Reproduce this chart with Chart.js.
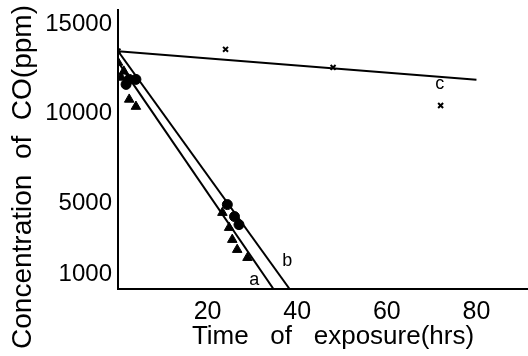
<!DOCTYPE html>
<html>
<head>
<meta charset="utf-8">
<script src="https://cdn.jsdelivr.net/npm/chart.js@4"></script>
<style>
  html, body { margin: 0; padding: 0; background: #fff; }
  canvas { display: block; }
</style>
</head>
<body>
<canvas id="myChart" width="528" height="356"></canvas>
<script>
// values
var triHours = [0, 1.3, 0.7, 2.5, 4, 23.3, 24.8, 25.5, 26.6, 28.9];
var triConc  = [12870, 12370, 12030, 10800, 10400, 4470, 3630, 2960, 2400, 1950];

var dotHours = [1.8, 2.5, 4, 24.4, 26, 27];
var dotConc  = [11640, 11920, 11920, 4920, 4250, 3800];

var crossHours = [0, 24, 48, 72];
var crossConc  = [13500, 13600, 12590, 10460];

var lineAHours = [0, 34.7];
var lineAConc  = [12900, 200];
var lineBHours = [0, 38.3];
var lineBConc  = [13500, 200];
var lineCHours = [0, 80];
var lineCConc  = [13500, 11900];

var yTicks = [1000, 5000, 10000, 15000];
var xTicks = [20, 40, 60, 80];

var lineNames = [
    { text: 'a', x: 30.4, y: 700 },
    { text: 'b', x: 37.8, y: 1750 },
    { text: 'c', x: 71.8, y: 11650 }
];

function pts(xs, ys) {
    return xs.map(function(x, i) { return { x: x, y: ys[i] }; });
}

var FONT = '"Liberation Sans", Arial, sans-serif';

// axis titles and the a / b / c labels
var textPlugin = {
    id: 'textPlugin',
    afterDraw: function(chart) {
        var ctx = chart.ctx;
        var xs = chart.scales.x, ys = chart.scales.y;
        ctx.save();
        ctx.fillStyle = '#000';
        ctx.textAlign = 'center';
        ctx.textBaseline = 'middle';

        ctx.font = '18px ' + FONT;
        lineNames.forEach(function(l) {
            ctx.fillText(l.text, xs.getPixelForValue(l.x), ys.getPixelForValue(l.y));
        });

        ctx.font = '26px ' + FONT;
        ctx.fillText('Time   of   exposure(hrs)', 333, 337);

        ctx.translate(23, 177);
        ctx.rotate(-Math.PI / 2);
        ctx.font = '28px ' + FONT;
        ctx.fillText('Concentration  of  CO(ppm)', 0, 0);
        ctx.restore();
    }
};

function noEdgePadding(scale) {
    scale.paddingTop = 0;
    scale.paddingBottom = 0;
    scale.paddingLeft = 0;
    scale.paddingRight = 0;
}

var ctx = document.getElementById('myChart').getContext('2d');
var myChart = new Chart(ctx, {
    type: 'scatter',
    data: {
        datasets: [
            { type: 'line', data: pts(lineAHours, lineAConc), borderColor: '#000', borderWidth: 2, pointRadius: 0, fill: false },
            { type: 'line', data: pts(lineBHours, lineBConc), borderColor: '#000', borderWidth: 2, pointRadius: 0, fill: false },
            { type: 'line', data: pts(lineCHours, lineCConc), borderColor: '#000', borderWidth: 2, pointRadius: 0, fill: false },
            { data: pts(triHours, triConc), pointStyle: 'triangle', pointRadius: 5.5, backgroundColor: '#000', borderColor: '#000', borderWidth: 1 },
            { data: pts(dotHours, dotConc), pointStyle: 'circle', pointRadius: 5, backgroundColor: '#000', borderColor: '#000', borderWidth: 1 },
            { data: pts(crossHours, crossConc), pointStyle: 'crossRot', pointRadius: 3.5, borderColor: '#000', borderWidth: 2 }
        ]
    },
    options: {
        responsive: false,
        animation: false,
        devicePixelRatio: 1,
        layout: { autoPadding: false, padding: { top: 10, right: 0, left: 0, bottom: 0 } },
        plugins: {
            legend: { display: false },
            tooltip: { enabled: false }
        },
        scales: {
            x: {
                type: 'linear',
                min: 0,
                max: 91.5,
                afterBuildTicks: function(scale) {
                    scale.ticks = xTicks.map(function(v) { return { value: v }; });
                },
                afterFit: function(scale) { scale.height = 67; noEdgePadding(scale); },
                grid: { display: true, drawOnChartArea: false, drawTicks: false },
                border: { color: '#000', width: 2 },
                ticks: {
                    color: '#000', padding: 8, maxRotation: 0, autoSkip: false,
                    font: { family: FONT, size: 25 },
                    callback: function(v) { return String(v); }
                }
            },
            y: {
                min: 200,
                max: 15800,
                afterBuildTicks: function(scale) {
                    scale.ticks = yTicks.map(function(v) { return { value: v }; });
                },
                afterFit: function(scale) { scale.width = 118; noEdgePadding(scale); },
                grid: { display: true, drawOnChartArea: false, drawTicks: false },
                border: { color: '#000', width: 2 },
                ticks: {
                    color: '#000', padding: 6, autoSkip: false,
                    font: { family: FONT, size: 24 },
                    callback: function(v) { return String(v); }
                }
            }
        }
    },
    plugins: [textPlugin]
});
</script>
</body>
</html>
